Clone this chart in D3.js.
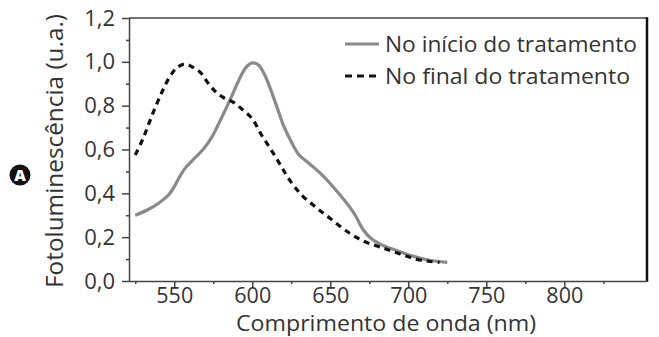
<!DOCTYPE html>
<html><head><meta charset="utf-8">
<script src="https://cdn.jsdelivr.net/npm/d3@7/dist/d3.min.js"></script>
<style>body{margin:0;background:#fff}svg{display:block}text{font-family:"Open Sans",sans-serif;fill:#333}</style>
</head><body><svg id="c" width="659" height="337"></svg>
<script>
// Data
const startWl  = [525,533,540,546,550,553,557,563,569,574,580,586,592,596,600,604,608,612,616,620,625,630,635,640,646,653,660,666,671,676,683,692,700,710,718,725];
const startVal = [0.300,0.325,0.355,0.39,0.43,0.47,0.515,0.56,0.605,0.655,0.74,0.83,0.925,0.975,0.995,0.985,0.94,0.87,0.79,0.71,0.635,0.575,0.545,0.515,0.475,0.42,0.36,0.30,0.235,0.195,0.165,0.14,0.12,0.10,0.09,0.085];
const endWl  = [525,530,536,542,547,552,557,562,567,572,577,582,588,594,600,606,612,618,624,632,641,650,662,672,682,694,705,713,720];
const endVal = [0.575,0.65,0.76,0.86,0.93,0.975,0.99,0.975,0.95,0.90,0.86,0.835,0.815,0.78,0.74,0.665,0.60,0.53,0.46,0.39,0.335,0.285,0.22,0.18,0.155,0.125,0.10,0.09,0.085];
const xTicks = [550,600,650,700,750,800];
const xMinor = [525,575,625,675,725,775,825];
const yTicks = [0,0.2,0.4,0.6,0.8,1.0,1.2];
const yMinor = [0.1,0.3,0.5,0.7,0.9,1.1];
const seriesNames = ["No início do tratamento","No final do tratamento"];
const xTitle = "Comprimento de onda (nm)";
const yTitle = "Fotoluminescência (u.a.)";

const L=129,R=647,T=18,B=281;
const svg=d3.select("#c");
const x=d3.scaleLinear().domain([521,853]).range([L,R]);
const y=d3.scaleLinear().domain([0,1.2]).range([B,T]);
const fmt=d=>d3.format(".1f")(d).replace(".",",");

// frame
svg.append("line").attr("x1",L).attr("x2",R).attr("y1",T).attr("y2",T).attr("stroke","#444").attr("stroke-width",1.5);
svg.append("line").attr("x1",R).attr("x2",R).attr("y1",T-0.7).attr("y2",B+0.7).attr("stroke","#111").attr("stroke-width",2.5);

// axes
const gx=svg.append("g").attr("transform",`translate(0,${B})`);
gx.call(d3.axisBottom(x).tickValues(xMinor).tickSize(3).tickFormat(""));
gx.call(g=>g.select(".domain").remove());
const gx2=svg.append("g").attr("transform",`translate(0,${B})`).call(d3.axisBottom(x).tickValues(xTicks).tickSize(6).tickPadding(0).tickFormat(d3.format("d")));
gx2.select(".domain").attr("d",`M${L},0.5H${R}`);
svg.selectAll("g").selectAll("path,line").attr("stroke","#444").attr("stroke-width",1.5);
gx2.selectAll("text").attr("font-size",21.5).attr("fill","#333").attr("dy","0.74em").style("font-family",'"Open Sans",sans-serif');

const gy=svg.append("g").attr("transform",`translate(${L},0)`);
gy.call(d3.axisLeft(y).tickValues(yMinor).tickSize(3).tickFormat(""));
gy.select(".domain").remove();
const gy2=svg.append("g").attr("transform",`translate(${L},0)`).call(d3.axisLeft(y).tickValues(yTicks).tickSize(7).tickPadding(7).tickFormat(fmt));
gy2.select(".domain").attr("d",`M0.5,${T}V${B}`);
svg.selectAll("g").selectAll("path,line").attr("stroke","#444").attr("stroke-width",1.5);
gy2.selectAll("text").attr("font-size",22).attr("fill","#333").style("font-family",'"Open Sans",sans-serif');

// curves
const line=d3.line().x(d=>x(d[0])).y(d=>y(d[1])).curve(d3.curveCatmullRom.alpha(0.5));
svg.append("path").attr("d",line(startWl.map((w,i)=>[w,startVal[i]]))).attr("fill","none").attr("stroke","#8a8a8a").attr("stroke-width",3.2).attr("stroke-linejoin","round");
svg.append("path").attr("d",line(endWl.map((w,i)=>[w,endVal[i]]))).attr("fill","none").attr("stroke","#111").attr("stroke-width",3.2).attr("stroke-dasharray","6,5");

// legend
const lg=svg.append("g");
lg.append("line").attr("x1",345).attr("x2",379).attr("y1",44).attr("y2",44).attr("stroke","#8a8a8a").attr("stroke-width",3);
lg.append("line").attr("x1",345).attr("x2",377).attr("y1",76).attr("y2",76).attr("stroke","#111").attr("stroke-width",3).attr("stroke-dasharray","7,5");
lg.append("text").attr("x",385).attr("y",52).attr("font-size",22).attr("textLength",252).attr("lengthAdjust","spacingAndGlyphs").text(seriesNames[0]);
lg.append("text").attr("x",385).attr("y",84).attr("font-size",22).attr("textLength",245).attr("lengthAdjust","spacingAndGlyphs").text(seriesNames[1]);

// titles
svg.append("text").attr("x",386).attr("y",331).attr("text-anchor","middle").attr("font-size",22).attr("textLength",300).attr("lengthAdjust","spacingAndGlyphs").text(xTitle);
svg.append("text").attr("transform","translate(63,151) rotate(-90)").attr("text-anchor","middle").attr("font-size",23).attr("textLength",274).attr("lengthAdjust","spacingAndGlyphs").text(yTitle);

// badge
svg.append("circle").attr("cx",20).attr("cy",175).attr("r",10.5).attr("fill","#111");
svg.append("text").attr("x",20).attr("y",181).attr("text-anchor","middle").attr("font-size",16).attr("font-weight",800).style("fill","#fff").text("A");
</script></body></html>
